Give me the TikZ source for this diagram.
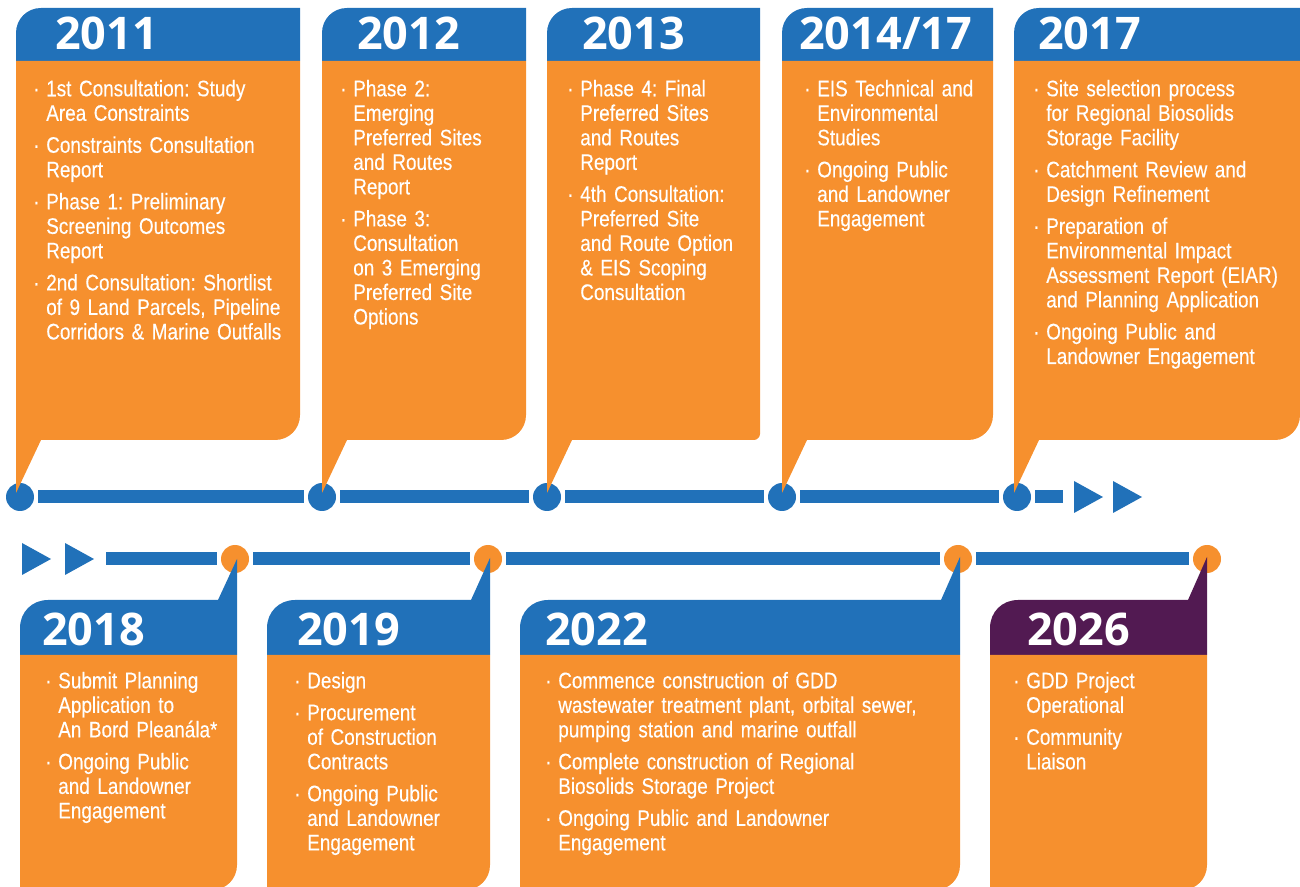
\documentclass[tikz,border=0pt]{standalone}
\usepackage{fontspec}
\setmainfont{Liberation Sans}
\newfontfamily\yearfont{Open Sans}
\newfontfamily\bodyfont[FakeStretch=0.84,FakeBold=0.3]{Liberation Sans}
\definecolor{gddblue}{RGB}{33,113,185}
\definecolor{gddorange}{RGB}{246,144,46}
\definecolor{gddplum}{RGB}{82,26,82}
\newcommand{\bitem}[1]{\par\hangindent=9.75pt\hangafter=1\noindent\makebox[9.75pt][l]{·}#1\par}

\begin{document}
\begin{tikzpicture}[x=0.75pt,y=-0.75pt,
  hdr/.style={fill=gddblue},
  hdrplum/.style={fill=gddplum},
  bubble/.style={fill=gddorange},
  dotblue/.style={circle,fill=gddblue,minimum size=21pt,inner sep=0pt,outer sep=3pt},
  dotorange/.style={circle,fill=gddorange,minimum size=21pt,inner sep=0pt,outer sep=3pt},
  track/.style={gddblue,line width=9.75pt},
  yr/.style={anchor=base west,inner sep=0pt,text=white,font=\yearfont\bfseries\fontsize{33.75}{40}\selectfont},
  txt/.style={anchor=north west,inner sep=0pt,text=white,text width=330pt,align=left,
    font=\bodyfont\frenchspacing\fontsize{16.9}{18.4}\selectfont,execute at begin node={\setlength{\parskip}{5.6pt}}}]
\useasboundingbox (0,0) rectangle (1300,887);
\clip (0,0) rectangle (1300,887);

% timeline dots
\node[dotblue] (t1) at (20,497) {};
\node[dotblue] (t2) at (322,497) {};
\node[dotblue] (t3) at (547,497) {};
\node[dotblue] (t4) at (782,497) {};
\node[dotblue] (t5) at (1017,497) {};
\coordinate (tend) at (1063,497);
\node[dotorange] (b1) at (235,559) {};
\node[dotorange] (b2) at (488,559) {};
\node[dotorange] (b3) at (958,559) {};
\node[dotorange] (b4) at (1207,559) {};
\coordinate (bstart) at (106,559);

\foreach \a/\b in {t1/t2,t2/t3,t3/t4,t4/t5,t5/tend,bstart/b1,b1/b2,b2/b3,b3/b4}
  \draw[track] (\a) -- (\b);

\fill[gddblue] (1074,481) -- (1103,497) -- (1074,513) -- cycle;
\fill[gddblue] (1113,481) -- (1142,497) -- (1113,513) -- cycle;
\fill[gddblue] (22,543) -- (51,559) -- (22,575) -- cycle;
\fill[gddblue] (65,543) -- (94,559) -- (65,575) -- cycle;

% top bubbles
\fill[hdr] (16,61) -- (16,33) .. controls (16,19) and (27,8) .. (41,8) -- (300,8) -- (300,61) -- cycle;
\fill[bubble] (16,61) -- (300,61) -- (300,415) .. controls (300,429) and (289,440) .. (275,440) -- (41,440) -- (16,493) -- cycle;
\fill[hdr] (322,61) -- (322,33) .. controls (322,19) and (333,8) .. (347,8) -- (526,8) -- (526,61) -- cycle;
\fill[bubble] (322,61) -- (526,61) -- (526,415) .. controls (526,429) and (515,440) .. (501,440) -- (347,440) -- (322,493) -- cycle;
\fill[hdr] (547,61) -- (547,33) .. controls (547,19) and (558,8) .. (572,8) -- (760,8) -- (760,61) -- cycle;
\fill[bubble] (547,61) -- (760,61) -- (760,434) .. controls (760,437) and (757,440) .. (754,440) -- (572,440) -- (547,493) -- cycle;
\fill[hdr] (782,61) -- (782,33) .. controls (782,19) and (793,8) .. (807,8) -- (993,8) -- (993,61) -- cycle;
\fill[bubble] (782,61) -- (993,61) -- (993,415) .. controls (993,429) and (982,440) .. (968,440) -- (807,440) -- (782,493) -- cycle;
\fill[hdr] (1014,61) -- (1014,33) .. controls (1014,19) and (1025,8) .. (1039,8) -- (1300,8) -- (1300,61) -- cycle;
\fill[bubble] (1014,61) -- (1300,61) -- (1300,415) .. controls (1300,429) and (1289,440) .. (1275,440) -- (1039,440) -- (1014,493) -- cycle;

% bottom bubbles
\fill[hdr] (20,655) -- (20,628) .. controls (20,612) and (32,600) .. (48,600) -- (218,600) -- (237,559) -- (237,655) -- cycle;
\fill[bubble] (20,655) -- (237,655) -- (237,865) .. controls (237,879) and (226,890) .. (212,890) -- (20,890) -- cycle;
\fill[hdr] (267,655) -- (267,628) .. controls (267,612) and (279,600) .. (295,600) -- (471,600) -- (490,558) -- (490,655) -- cycle;
\fill[bubble] (267,655) -- (490,655) -- (490,865) .. controls (490,879) and (479,890) .. (465,890) -- (267,890) -- cycle;
\fill[hdr] (520,655) -- (520,628) .. controls (520,612) and (532,600) .. (548,600) -- (941,600) -- (960,557) -- (960,655) -- cycle;
\fill[bubble] (520,655) -- (960,655) -- (960,865) .. controls (960,879) and (949,890) .. (935,890) -- (520,890) -- cycle;
\fill[hdrplum] (990,655) -- (990,628) .. controls (990,612) and (1002,600) .. (1018,600) -- (1188,600) -- (1207,557) -- (1207,655) -- cycle;
\fill[bubble] (990,655) -- (1207,655) -- (1207,865) .. controls (1207,879) and (1196,890) .. (1182,890) -- (990,890) -- cycle;

% years
\node[yr] (y2011) at (55,50) {2011};
\node[yr] (y2012) at (357,50) {2012};
\node[yr] (y2013) at (582,50) {2013};
\node[yr] (y2014) at (799,50) {2014/17};
\node[yr] (y2017) at (1038,50) {2017};
\node[yr] (y2018) at (42,645) {2018};
\node[yr] (y2019) at (297,645) {2019};
\node[yr] (y2022) at (545,645) {2022};
\node[yr] (y2026) at (1027,645) {2026};

% texts
\node[txt] (x2011) at (33,64) {\bitem{1st Consultation: Study\newline Area Constraints}
  \bitem{Constraints Consultation\newline Report}
  \bitem{Phase 1: Preliminary\newline Screening Outcomes\newline Report}
  \bitem{2nd Consultation: Shortlist\newline of 9 Land Parcels, Pipeline\newline Corridors \& Marine Outfalls}};
\node[txt] (x2012) at (340,64) {\bitem{Phase 2:\newline Emerging\newline Preferred Sites\newline and Routes\newline Report}
  \bitem{Phase 3:\newline Consultation\newline on 3 Emerging\newline Preferred Site\newline Options}};
\node[txt] (x2013) at (567,64) {\bitem{Phase 4: Final\newline Preferred Sites\newline and Routes\newline Report}
  \bitem{4th Consultation:\newline Preferred Site\newline and Route Option\newline \& EIS Scoping\newline Consultation}};
\node[txt] (x2014) at (804,64) {\bitem{EIS Technical and\newline Environmental\newline Studies}
  \bitem{Ongoing Public\newline and Landowner\newline Engagement}};
\node[txt] (x2017) at (1033,64) {\bitem{Site selection process\newline for Regional Biosolids\newline Storage Facility}
  \bitem{Catchment Review and\newline Design Refinement}
  \bitem{Preparation of\newline Environmental Impact\newline Assessment Report (EIAR)\newline and Planning Application}
  \bitem{Ongoing Public and\newline Landowner Engagement}};
\node[txt] (x2018) at (45,656) {\bitem{Submit Planning\newline Application to\newline An Bord Pleanála*}
  \bitem{Ongoing Public\newline and Landowner\newline Engagement}};
\node[txt] (x2019) at (294,656) {\bitem{Design}
  \bitem{Procurement\newline of Construction\newline Contracts}
  \bitem{Ongoing Public\newline and Landowner\newline Engagement}};
\node[txt] (x2022) at (545,656) {\bitem{Commence construction of GDD\newline wastewater treatment plant, orbital sewer,\newline pumping station and marine outfall}
  \bitem{Complete construction of Regional\newline Biosolids Storage Project}
  \bitem{Ongoing Public and Landowner\newline Engagement}};
\node[txt] (x2026) at (1013,656) {\bitem{GDD Project\newline Operational}
  \bitem{Community\newline Liaison}};
\end{tikzpicture}
\end{document}
